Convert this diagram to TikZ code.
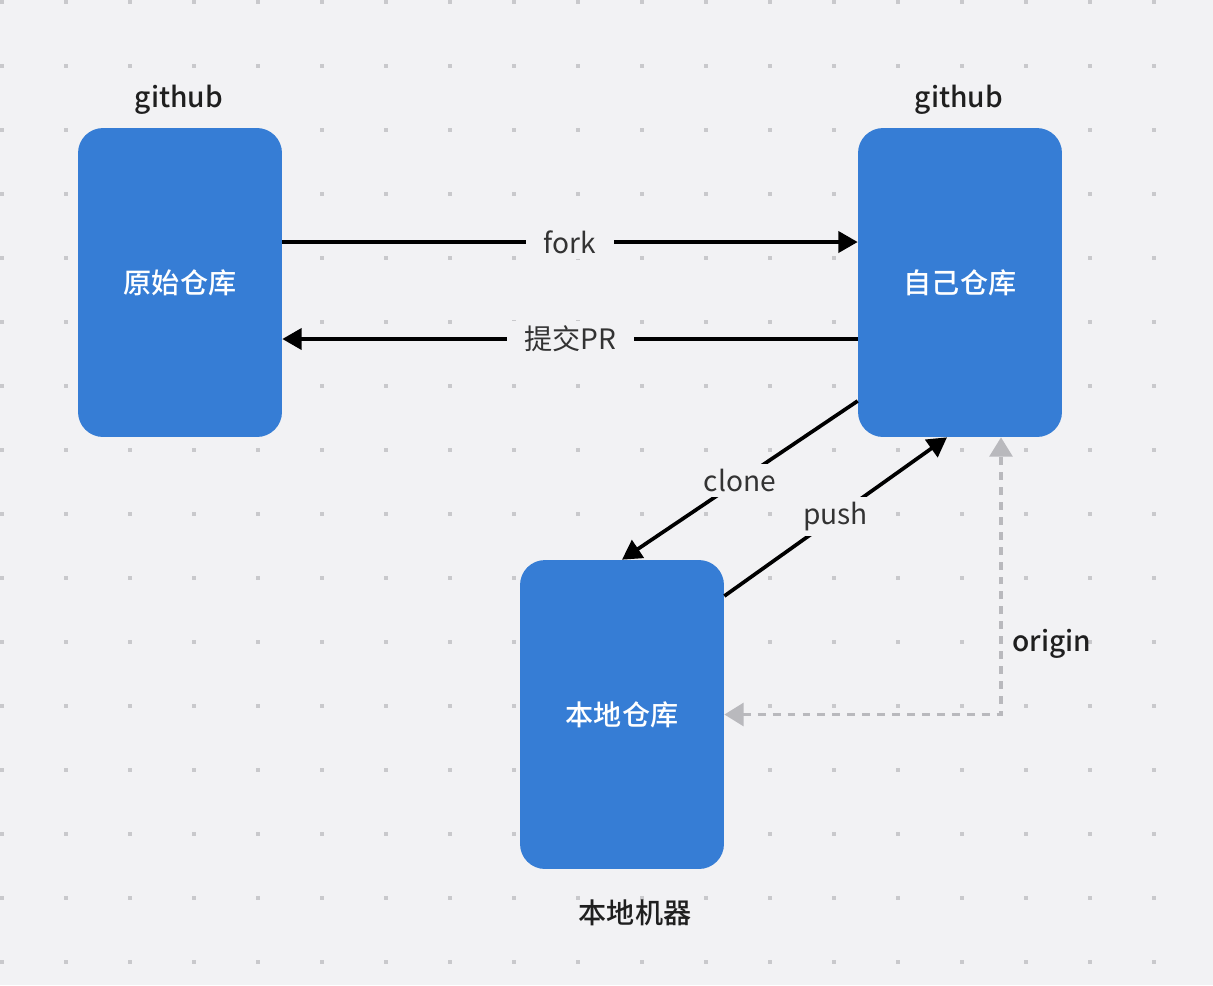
\documentclass[tikz,border=0pt]{standalone}
\usepackage{fontspec}
\setmainfont{Noto Sans CJK SC}
\newfontfamily\medfont{Noto Sans CJK SC Medium}
\usetikzlibrary{arrows.meta}
\definecolor{bg}{HTML}{F2F2F4}
\definecolor{repofill}{HTML}{367DD5}
\definecolor{dotc}{HTML}{C9C9CC}
\definecolor{linkc}{HTML}{B9B9BD}
\definecolor{txt}{HTML}{333333}
\tikzset{
  repo/.style={fill=repofill, rounded corners=0.5cm, minimum width=4.08cm,
    minimum height=6.18cm, inner sep=0pt, text=white,
    font=\fontsize{16}{19}\selectfont\medfont},
  title/.style={text=black!88, font=\fontsize{16}{19}\selectfont\medfont},
  flow/.style={-{Triangle[length=11pt,width=12pt]}, line width=2.1pt},
  lbl/.style={fill=bg, text=txt, font=\fontsize{16}{19}\selectfont,
    inner xsep=10pt, inner ysep=3pt},
  originlink/.style={{Triangle[length=11pt,width=13pt]}-{Triangle[length=11pt,width=13pt]},
    linkc, line width=2pt, dash pattern=on 4.5pt off 4pt},
}
\begin{document}
\begin{tikzpicture}[x=0.02cm,y=-0.02cm]
% background and dot grid
\fill[bg] (0,0) rectangle (1213,985);
\useasboundingbox (0,0) rectangle (1213,985);
\foreach \x in {2,66,...,1200}
  \foreach \y in {2,66,...,980}
    \fill[dotc] (\x-2,\y-2) rectangle (\x+2,\y+2);
% repositories
\node[repo] (orig) at (180,282.5) {原始仓库};
\node[repo] (mine) at (960,282.5) {自己仓库};
\node[repo] (local) at (622,714.5) {本地仓库};
\node[title] (gh1) at (179,100) {github};
\node[title] (gh2) at (959,100) {github};
\node[title] (host) at (635,913) {本地机器};
% links
\draw[flow] ([yshift=0.81cm]orig.east) -- node[lbl] {fork} ([yshift=0.81cm]mine.west);
\draw[flow] ([yshift=-1.13cm]mine.west) -- node[lbl] {提交PR} ([yshift=-1.13cm]orig.east);
\draw[flow] ([yshift=-2.37cm]mine.west) -- node[lbl] {clone} (local.north);
\draw[flow] ([yshift=2.37cm]local.east) -- node[lbl] {push} ([xshift=-0.26cm]mine.south);
\coordinate (oc) at ([xshift=0.82cm]mine.south);
\draw[originlink] (local.east) -| (oc);
\node[title] (orgn) at (1052,644) {origin};
\end{tikzpicture}
\end{document}
